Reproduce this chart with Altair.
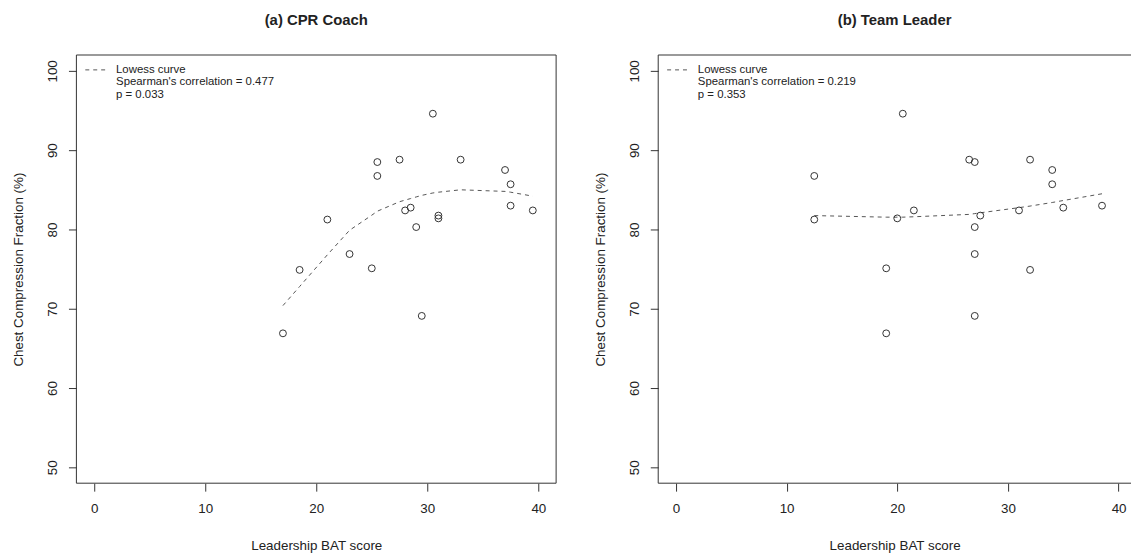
import altair as alt
import pandas as pd

# ---- data ----
ccf = [66.9, 74.9, 75.1, 76.9, 69.1, 80.3, 81.25, 81.4, 81.75, 82.4,
       82.4, 82.75, 83.0, 85.7, 86.75, 87.5, 88.5, 88.8, 88.8, 94.6]
coach_bat = [17, 18.5, 25, 23, 29.5, 29, 21, 31, 31, 28,
             39.5, 28.5, 37.5, 37.5, 25.5, 37, 25.5, 27.5, 33, 30.5]
leader_bat = [19, 32, 19, 27, 27, 27, 12.5, 20, 27.5, 21.5,
              31, 35, 38.5, 34, 12.5, 34, 27, 26.5, 32, 20.5]

coach_curve_x = [17, 18.5, 21, 23, 25, 25.5, 27.5, 28, 28.5, 29, 29.5,
                 30.5, 31, 33, 37, 37.5, 39.5]
coach_curve_y = [70.4, 72.8, 76.8, 79.9, 81.8, 82.3, 83.5, 83.7, 83.9, 84.1,
                 84.3, 84.6, 84.7, 85.0, 84.8, 84.7, 84.2]
leader_curve_x = [12.5, 19, 20, 20.5, 21.5, 26.5, 27, 27.5, 31, 32, 34, 35, 38.5]
leader_curve_y = [81.75, 81.55, 81.55, 81.55, 81.6, 81.9, 82.0, 82.1, 82.75,
                  82.95, 83.4, 83.65, 84.5]

titles = ["(a) CPR Coach", "(b) Team Leader"]
legend_a = ["Lowess curve", "Spearman's correlation = 0.477", "p = 0.033"]
legend_b = ["Lowess curve", "Spearman's correlation = 0.219", "p = 0.353"]
x_ticks = [0, 10, 20, 30, 40]
y_ticks = [50, 60, 70, 80, 90, 100]
x_title = "Leadership BAT score"
y_title = "Chest Compression Fraction (%)"

FONT = "Liberation Sans"
INK = "#333333"
FS = 13.5
H = 432


def frame_rule(**enc):
    return alt.Chart(pd.DataFrame({"k": [0]})).mark_rule(
        color=INK, strokeWidth=1).encode(**enc)


def panel(bat, cx, cy, title, legend_lines, width, x_max, right_edge):
    pts = pd.DataFrame({"bat": bat, "ccf": ccf})
    cur = pd.DataFrame({"bat": cx, "ccf": cy})
    xs = alt.Scale(domain=[-1.6, x_max], nice=False, zero=False)
    ys = alt.Scale(domain=[48, 102], nice=False, zero=False)
    xax = alt.Axis(values=x_ticks, title=x_title, grid=False, domain=False,
                   tickSize=8, tickColor=INK, labelPadding=11, labelFontSize=FS,
                   labelFont=FONT, labelColor="#222", titleFont=FONT,
                   titleFontSize=FS, titleFontWeight="normal", titleColor="#222",
                   titlePadding=23)
    yax = alt.Axis(values=y_ticks, title=y_title, grid=False, domain=False,
                   tickSize=8, tickColor=INK, labelPadding=9, labelFontSize=FS,
                   labelFont=FONT, labelColor="#222", labelAngle=-90,
                   labelAlign="center", labelBaseline="bottom",
                   titleFont=FONT, titleFontSize=FS, titleFontWeight="normal",
                   titleColor="#222", titlePadding=20)
    points = alt.Chart(pts).mark_point(
        shape="circle", filled=False, size=48, stroke=INK, strokeWidth=1, opacity=1
    ).encode(x=alt.X("bat:Q", scale=xs, axis=xax), y=alt.Y("ccf:Q", scale=ys, axis=yax))
    line = alt.Chart(cur).mark_line(
        strokeDash=[4, 4], color="#555555", strokeWidth=1
    ).encode(x=alt.X("bat:Q", scale=xs), y=alt.Y("ccf:Q", scale=ys))
    leg_rule = alt.Chart(pd.DataFrame({"k": [0]})).mark_rule(
        strokeDash=[4, 4], color="#555555", strokeWidth=1
    ).encode(x=alt.value(9), x2=alt.value(29), y=alt.value(15))
    texts = []
    for i, t in enumerate(legend_lines):
        texts.append(
            alt.Chart(pd.DataFrame({"t": [t]})).mark_text(
                align="left", baseline="middle", font=FONT, fontSize=11.5, color="#222"
            ).encode(text="t:N", x=alt.value(40), y=alt.value(15 + 12.5 * i))
        )
    frames = [
        frame_rule(x=alt.value(0), x2=alt.value(width), y=alt.value(0)),
        frame_rule(x=alt.value(0), x2=alt.value(width), y=alt.value(H)),
        frame_rule(x=alt.value(0), y=alt.value(0), y2=alt.value(H)),
    ]
    if right_edge:
        frames.append(frame_rule(x=alt.value(width), y=alt.value(0), y2=alt.value(H)))
    return alt.layer(*frames, line, points, leg_rule, *texts).properties(
        width=width, height=H,
        title=alt.TitleParams(title, font=FONT, fontSize=15, fontWeight="bold",
                              color="#222", offset=27, anchor="middle"),
    )


left = panel(coach_bat, coach_curve_x, coach_curve_y, titles[0], legend_a, 484, 41.6, True)
right = panel(leader_bat, leader_curve_x, leader_curve_y, titles[1], legend_b, 477, 41.12, False)

chart = alt.hconcat(left, right, spacing=103, bounds="flush").properties(
    padding={"left": 4, "top": 2, "right": 0, "bottom": 0}
).configure(background="white").configure_view(strokeWidth=0)

chart.save("out.html", embed_options={"renderer": "svg", "actions": False})
